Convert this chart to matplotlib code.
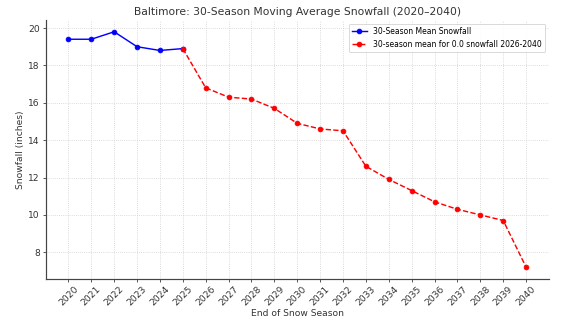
import matplotlib
matplotlib.use("Agg")
import matplotlib.pyplot as plt

years_hist = [2020, 2021, 2022, 2023, 2024, 2025]
snow_hist = [19.4, 19.4, 19.8, 19.0, 18.8, 18.9]

years_proj = [2025, 2026, 2027, 2028, 2029, 2030, 2031, 2032, 2033, 2034,
              2035, 2036, 2037, 2038, 2039, 2040]
snow_proj = [18.9, 16.8, 16.3, 16.2, 15.7, 14.9, 14.6, 14.5, 12.6, 11.9,
             11.3, 10.7, 10.3, 10.0, 9.7, 7.2]

all_years = list(range(2020, 2041))

DPI = 57.2
fig = plt.figure(figsize=(572 / DPI, 323 / DPI), dpi=DPI)
ax = fig.add_axes([45.5 / 572, 1 - 279 / 323, 503.5 / 572, 259 / 323])

ax.plot(years_hist, snow_hist, color="blue", marker="o", markersize=6,
        linewidth=1.8, label="30-Season Mean Snowfall")
ax.plot(years_proj, snow_proj, color="red", marker="o", markersize=6,
        linewidth=1.8, linestyle="--",
        label="30-season mean for 0.0 snowfall 2026-2040")

ax.set_title("Baltimore: 30-Season Moving Average Snowfall (2020\u20132040)",
             fontsize=13.5, color="#333333")
ax.set_xlabel("End of Snow Season", fontsize=11.5, color="#333333",
              labelpad=2)
ax.set_ylabel("Snowfall (inches)", fontsize=11.5, color="#333333")
ax.set_xticks(all_years)
ax.set_xticklabels([str(y) for y in all_years], rotation=45, fontsize=11.5,
                   color="#333333")
ax.tick_params(axis="y", labelsize=11.5, labelcolor="#333333")
ax.set_yticks([8, 10, 12, 14, 16, 18, 20])

ax.grid(True, linestyle=":", color="#cccccc", linewidth=1.0)
for side in ("top", "right"):
    ax.spines[side].set_visible(False)
for side in ("left", "bottom"):
    ax.spines[side].set_color("#444444")
    ax.spines[side].set_linewidth(1.5)

ax.legend(loc="upper right", fontsize=9.7, framealpha=0.9)

fig.savefig("out.png", dpi=DPI)
